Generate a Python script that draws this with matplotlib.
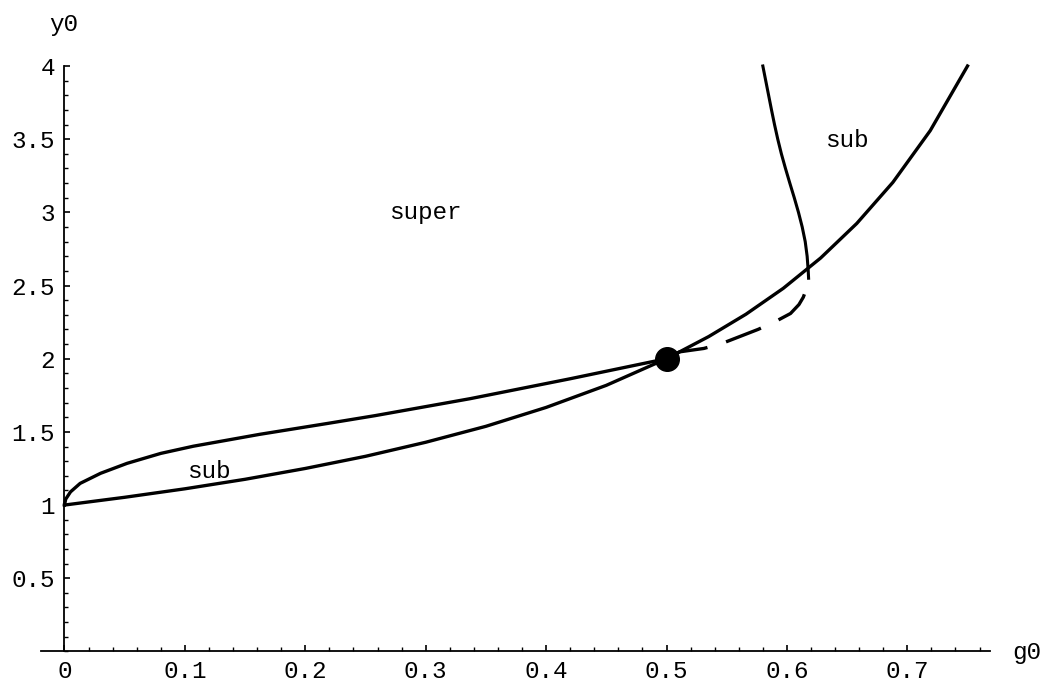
import matplotlib
matplotlib.use("Agg")
import matplotlib.pyplot as plt
from matplotlib.ticker import MultipleLocator, FixedLocator

# ---- data ----
upper_g = [0.0, 0.001, 0.005, 0.013, 0.030, 0.052, 0.080, 0.107, 0.162, 0.218, 0.258, 0.337, 0.420, 0.500]
upper_y = [1.0, 1.040, 1.090, 1.148, 1.217, 1.285, 1.353, 1.402, 1.483, 1.557, 1.611, 1.727, 1.863, 2.000]

lower_g = [0.0, 0.05, 0.10, 0.15, 0.20, 0.25, 0.30, 0.35, 0.40, 0.45, 0.50, 0.535, 0.566, 0.597, 0.628, 0.658, 0.688, 0.719, 0.750]
lower_y = [1.0, 1.053, 1.111, 1.176, 1.250, 1.333, 1.429, 1.538, 1.667, 1.818, 2.000, 2.151, 2.304, 2.481, 2.688, 2.924, 3.205, 3.558, 4.000]

# dashed branch, listed from its upper end down to the marked point
dash_g = [0.6145, 0.6136, 0.610, 0.603, 0.590, 0.576, 0.546, 0.531, 0.511, 0.500]
dash_y = [2.440, 2.420, 2.370, 2.309, 2.252, 2.200, 2.104, 2.070, 2.047, 2.000]

vert_g = [0.5800, 0.5824, 0.5848, 0.5872, 0.5897, 0.5924, 0.5954, 0.5988, 0.6024,
          0.6061, 0.6096, 0.6127, 0.6152, 0.6168, 0.6177, 0.6180]
vert_y = [4.00, 3.90, 3.80, 3.70, 3.60, 3.50, 3.40, 3.30, 3.20,
          3.10, 3.00, 2.90, 2.80, 2.70, 2.60, 2.55]

point_g = [0.5]
point_y = [2.0]

labels = [("super", 0.30, 3.00), ("sub", 0.65, 3.49), ("sub", 0.12, 1.23)]

xticks = [0, 0.1, 0.2, 0.3, 0.4, 0.5, 0.6, 0.7]
xticklabels = ["0", "0.1", "0.2", "0.3", "0.4", "0.5", "0.6", "0.7"]
yticks = [0.5, 1, 1.5, 2, 2.5, 3, 3.5, 4]
yticklabels = ["0.5", "1", "1.5", "2", "2.5", "3", "3.5", "4"]

# ---- figure ----
W, H = 1048, 683
fig = plt.figure(figsize=(W / 100, H / 100), dpi=100)
font = "Liberation Mono"
fs = 17.5

x0px, x1px = 41.0, 990.4
ytop, ybot = 66.0, 651.4
ax = fig.add_axes([x0px / W, 1 - ybot / H, (x1px - x0px) / W, (ybot - ytop) / H])
ax.set_xlim(-0.0195, 0.769)
ax.set_ylim(0, 4)

lw = 2.4
ax.plot(upper_g, upper_y, color="black", lw=lw, clip_on=False)
ax.plot(lower_g, lower_y, color="black", lw=lw, clip_on=False)
ax.plot(vert_g, vert_y, color="black", lw=lw * 0.92, clip_on=False)
ax.plot(dash_g, dash_y, color="black", lw=lw, dashes=(27 / lw, 14 / lw),
        dash_capstyle="butt", clip_on=False)
ax.plot(point_g, point_y, "o", color="black", ms=17, clip_on=False, zorder=5)

for txt, gx, gy in labels:
    ax.text(gx, gy, txt, ha="center", va="center", fontsize=fs, family=font)

for s in ["top", "right"]:
    ax.spines[s].set_visible(False)
ax.spines["left"].set_position(("data", 0))
ax.spines["bottom"].set_position(("data", 0))
ax.spines["left"].set_linewidth(1.3)
ax.spines["bottom"].set_linewidth(1.3)

ax.xaxis.set_major_locator(FixedLocator(xticks))
ax.set_xticklabels(xticklabels)
ax.yaxis.set_major_locator(FixedLocator(yticks))
ax.set_yticklabels(yticklabels)
ax.xaxis.set_minor_locator(MultipleLocator(0.02))
ax.yaxis.set_minor_locator(MultipleLocator(0.1))

ax.tick_params(which="major", direction="in", length=4.5, width=1.2, labelsize=fs)
ax.tick_params(axis="x", which="major", pad=6)
ax.tick_params(axis="y", which="major", pad=7)
ax.tick_params(which="minor", direction="in", length=2.6, width=1.0)
for lab in ax.get_xticklabels() + ax.get_yticklabels():
    lab.set_family(font)

fig.text(64 / W, 1 - 24 / H, "y0", ha="center", va="center", fontsize=fs, family=font)
fig.text(1027 / W, 1 - 652 / H, "g0", ha="center", va="center", fontsize=fs, family=font)

fig.savefig("out.png", dpi=100)
